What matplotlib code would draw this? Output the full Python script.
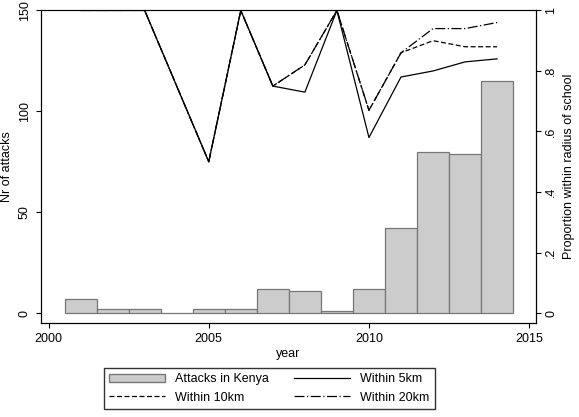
import numpy as np
import matplotlib.pyplot as plt
from matplotlib.lines import Line2D
from matplotlib.patches import Patch

years = [2001, 2002, 2003, 2004, 2005, 2006, 2007, 2008, 2009, 2010, 2011, 2012, 2013, 2014]
attacks = [7, 2, 2, 0, 2, 2, 12, 11, 1, 12, 42, 80, 79, 115]

line_years = [2001, 2003, 2005, 2006, 2007, 2008, 2009, 2010, 2011, 2012, 2013, 2014]
within5 = [1, 1, 0.5, 1, 0.75, 0.73, 1, 0.58, 0.78, 0.80, 0.83, 0.84]
within10 = [1, 1, 0.5, 1, 0.75, 0.82, 1, 0.67, 0.86, 0.90, 0.88, 0.88]
within20 = [1, 1, 0.5, 1, 0.75, 0.82, 1, 0.67, 0.86, 0.94, 0.94, 0.96]

plt.rcParams['font.family'] = ['Liberation Sans', 'DejaVu Sans']
fig = plt.figure(figsize=(5.79, 4.17), dpi=100)
ax = fig.add_axes([0.07, 0.225, 0.855, 0.75])
ax.bar(years, attacks, width=1.0, color='#cccccc', edgecolor='#777777', linewidth=0.9)
ax.set_ylim(-5, 150)
ax.set_xlim(1999.75, 2015.2)
ax.set_yticks([0, 50, 100, 150])
ax.set_yticklabels(['0', '50', '100', '150'], rotation=90, va='center')
ax.set_xticks([2000, 2005, 2010, 2015])
ax.set_xlabel('year', fontsize=9, labelpad=2)
ax.set_ylabel('Nr of attacks', fontsize=9)
ax.tick_params(labelsize=9)

ax2 = ax.twinx()
ax2.plot(line_years, within5, color='black', lw=0.9, ls='-')
ax2.plot(line_years, within10, color='black', lw=0.9, ls=(0, (4, 2)))
ax2.plot(line_years, within20, color='black', lw=0.9, ls=(0, (8, 2, 1, 2)))
ax2.set_ylim(-5 / 150, 1)
ax2.set_yticks([0, 0.2, 0.4, 0.6, 0.8, 1])
ax2.set_yticklabels(['0', '.2', '.4', '.6', '.8', '1'], rotation=90, va='center')
ax2.set_ylabel('Proportion within radius of school', fontsize=9)
ax2.tick_params(labelsize=9)

h_bar = Patch(facecolor='#cccccc', edgecolor='#777777')
h5 = Line2D([], [], color='black', lw=0.9, ls='-')
h10 = Line2D([], [], color='black', lw=0.9, ls=(0, (4, 2)))
h20 = Line2D([], [], color='black', lw=0.9, ls=(0, (8, 2, 1, 2)))
fig.legend([h_bar, h10, h5, h20], ['Attacks in Kenya', 'Within 10km', 'Within 5km', 'Within 20km'],
           loc='lower center', bbox_to_anchor=(0.465, 0.005), ncol=2,
           fontsize=9, frameon=True, fancybox=False, edgecolor='black',
           handlelength=4.5, columnspacing=2.0)
fig.savefig('out.png', dpi=100)
